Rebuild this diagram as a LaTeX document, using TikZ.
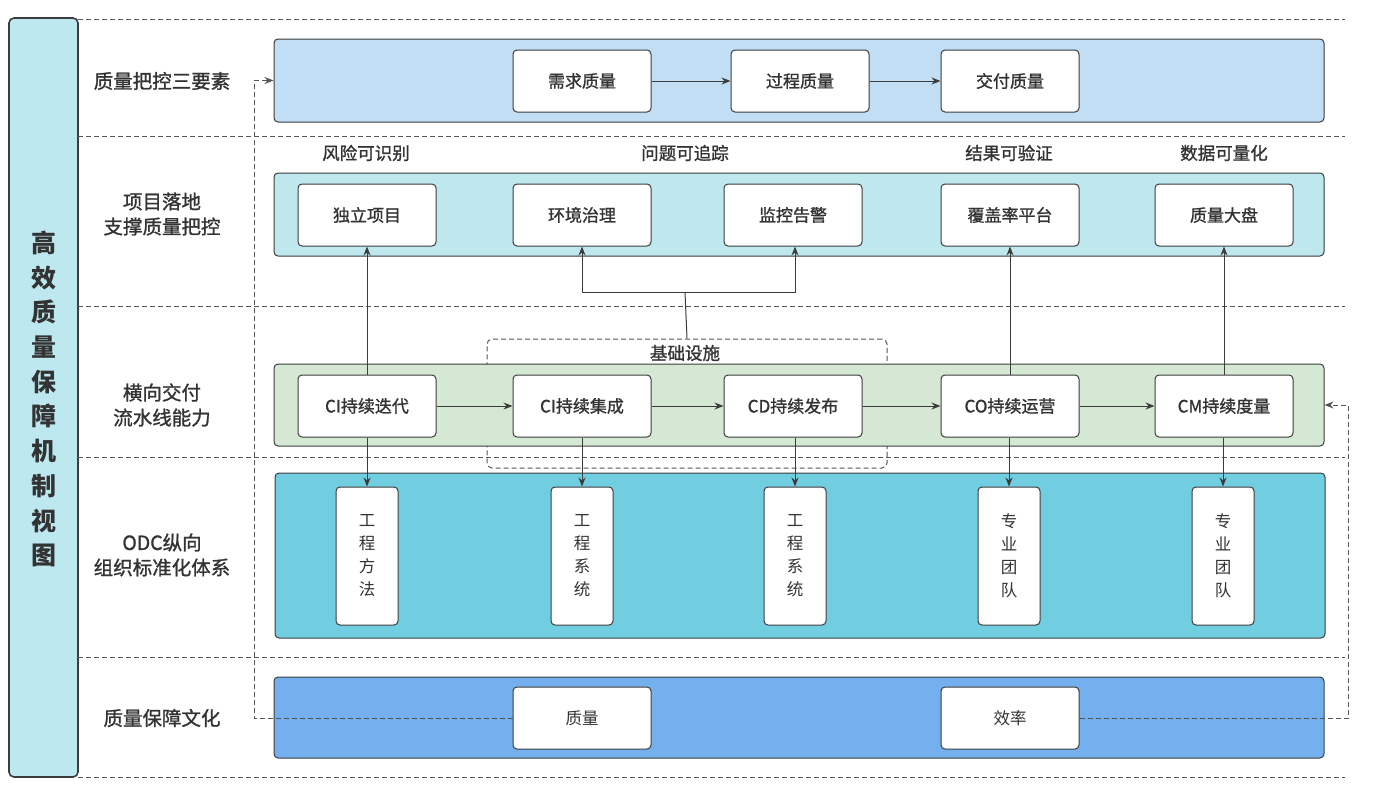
\documentclass[tikz,border=0pt]{standalone}
\usepackage{fontspec}
\setmainfont{Noto Sans CJK SC}
\newfontfamily\medfont[FakeBold=1.2]{Noto Sans CJK SC}
\usetikzlibrary{arrows.meta,positioning}
\definecolor{ink}{HTML}{333333}
\definecolor{edge}{HTML}{3C3C3C}
\definecolor{dash}{HTML}{555555}
\definecolor{cA}{HTML}{C1DEF5}
\definecolor{cB}{HTML}{BEE8EE}
\definecolor{cC}{HTML}{D5E8D4}
\definecolor{cD}{HTML}{70CEE0}
\definecolor{cE}{HTML}{74B0ED}
\definecolor{cBar}{HTML}{BDE8EF}
\tikzset{
  cont/.style={draw=edge, line width=1pt, rounded corners=4pt, minimum width=1050pt, inner sep=0pt},
  box/.style={draw=edge, line width=1pt, rounded corners=4pt, fill=white, minimum width=138pt, minimum height=62pt, inner sep=0pt, text=ink, font=\medfont\fontsize{17}{20}\selectfont},
  vbox/.style={draw=edge, line width=1pt, rounded corners=4pt, fill=white, minimum width=62pt, minimum height=138pt, inner sep=0pt, text=ink, align=center, font=\fontsize{16.5}{23}\selectfont},
  rowlab/.style={text=ink, align=center, font=\medfont\fontsize{19.5}{25}\selectfont},
  toplab/.style={text=ink, font=\medfont\fontsize{17.5}{20}\selectfont},
  divider/.style={draw=dash, dashed, dash pattern=on 5pt off 3pt, line width=0.9pt},
  arr/.style={draw=edge, line width=1pt, -{Stealth[length=9pt,width=7pt]}},
  darr/.style={draw=dash, line width=1pt, dash pattern=on 5pt off 3pt, -{Stealth[length=9pt,width=7pt]}},
}
\begin{document}
\begin{tikzpicture}[x=1pt,y=-1pt]
\useasboundingbox (0,0) rectangle (1382,798);
% left title bar
\node[draw=edge, line width=1.6pt, rounded corners=5pt, fill=cBar, minimum width=69pt, minimum height=759pt, inner sep=0pt] (bar) at (43.5,397.5) {};
\node[text=ink, align=center, font=\fontsize{25}{34.7}\selectfont\bfseries] (title) at (44,399) {高\\效\\质\\量\\保\\障\\机\\制\\视\\图};
% dividers
\foreach \yy/\nm in {19/d0,136/d1,306/d2,457/d3,657/d4,777/d5}{
  \coordinate (\nm L) at (78,\yy);
  \coordinate (\nm R) at (1345,\yy);
  \draw[divider] (\nm L) -- (\nm R);
}
% row labels
\node[rowlab] (l1) at (162,81) {质量把控三要素};
\node[rowlab] (l2) at (162,214) {项目落地\\支撑质量把控};
\node[rowlab] (l3) at (162,405) {横向交付\\流水线能力};
\node[rowlab] (l4) at (162,555) {ODC纵向\\组织标准化体系};
\node[rowlab] (l5) at (162,718) {质量保障文化};
% infrastructure dashed box (behind)
\node[draw=dash, dashed, dash pattern=on 5pt off 3pt, line width=1pt, rounded corners=5pt, minimum width=400pt, minimum height=129pt, inner sep=0pt] (infra) at (687,403.5) {};
\node[toplab] (infralab) at (685,353) {基础设施};
% containers
\node[cont, fill=cA, minimum height=83pt] (r1) at (799,80.5) {};
\node[cont, fill=cB, minimum height=83pt] (r2) at (799,214.5) {};
\node[cont, fill=cC, minimum height=82pt] (r3) at (799,405) {};
\node[cont, fill=cD, minimum height=165pt] (r4) at (800,555.5) {};
\node[cont, fill=cE, minimum height=81pt] (r5) at (799,717.5) {};
% row1
\node[box] (q1) at (582,81) {需求质量};
\node[box] (q2) at (800,81) {过程质量};
\node[box] (q3) at (1010,81) {交付质量};
\draw[arr] (q1) -- (q2);
\draw[arr] (q2) -- (q3);
% row2 labels
\node[toplab] (t1) at (366,153) {风险可识别};
\node[toplab] (t2) at (685,153) {问题可追踪};
\node[toplab] (t3) at (1009,153) {结果可验证};
\node[toplab] (t4) at (1224,153) {数据可量化};
% row2 boxes
\node[box] (p1) at (367,215) {独立项目};
\node[box] (p2) at (582,215) {环境治理};
\node[box] (p3) at (793,215) {监控告警};
\node[box] (p4) at (1010,215) {覆盖率平台};
\node[box] (p5) at (1224,215) {质量大盘};
% row3 boxes
\node[box] (c1) at (367,406) {CI持续迭代};
\node[box] (c2) at (582,406) {CI持续集成};
\node[box] (c3) at (793,406) {CD持续发布};
\node[box] (c4) at (1010,406) {CO持续运营};
\node[box] (c5) at (1224,406) {CM持续度量};
\draw[arr] (c1) -- (c2);
\draw[arr] (c2) -- (c3);
\draw[arr] (c3) -- (c4);
\draw[arr] (c4) -- (c5);
% row4 boxes
\node[vbox] (o1) at (367,556) {工\\程\\方\\法};
\node[vbox] (o2) at (582,556) {工\\程\\系\\统};
\node[vbox] (o3) at (795,556) {工\\程\\系\\统};
\node[vbox] (o4) at (1009,556) {专\\业\\团\\队};
\node[vbox] (o5) at (1223,556) {专\\业\\团\\队};
% row5 boxes
\node[box, font=\fontsize{16.5}{20}\selectfont] (e1) at (582,718) {质量};
\node[box, font=\fontsize{16.5}{20}\selectfont] (e2) at (1010,718) {效率};
% vertical connectors
\draw[arr] (c1.north) -- (p1.south);
\draw[arr] (c4.north) -- (p4.south);
\draw[arr] (c5.north) -- (p5.south);
\coordinate (j) at (685,292);
\draw[draw=edge, line width=1pt] (infra.north) -- (j);
\draw[arr] (j) -| (p2.south);
\draw[arr] (j) -| (p3.south -| 795,0);
\draw[arr] (c1.south) -- (o1.north);
\draw[arr] (c2.south) -- (o2.north);
\draw[arr] (c3.south -| o3.north) -- (o3.north);
\draw[arr] (c4.south -| o4.north) -- (o4.north);
\draw[arr] (c5.south -| o5.north) -- (o5.north);
% feedback dashed
\coordinate (fl) at (254,718);
\coordinate (fr) at (1348,718);
\draw[darr] (e1.west) -- (fl) |- (r1.west);
\draw[darr] (e2.east) -- (fr) |- (r3.east);
\end{tikzpicture}
\end{document}
